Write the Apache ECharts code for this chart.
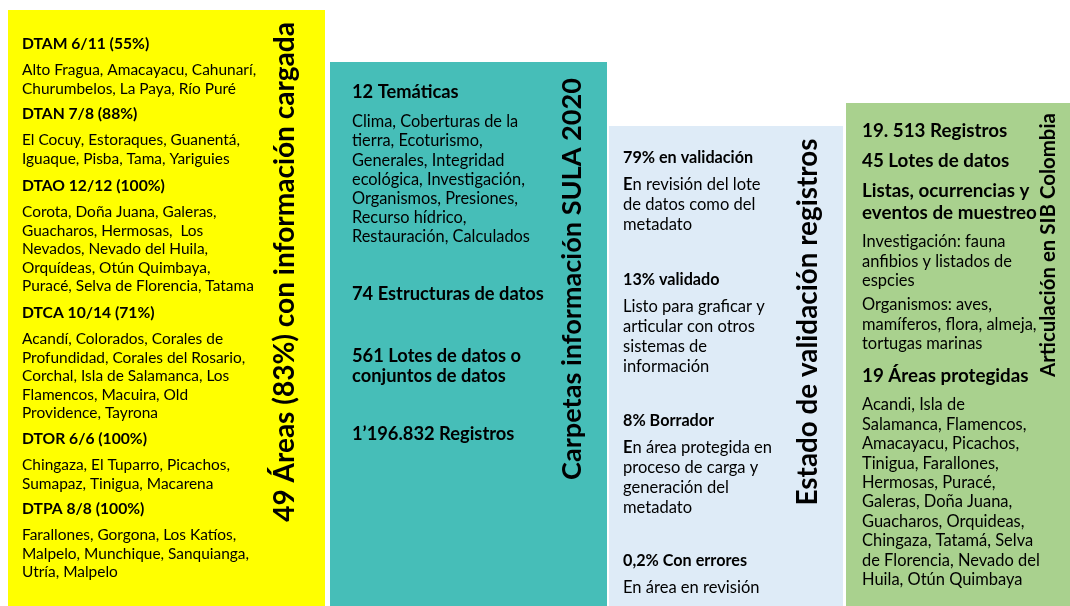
<!DOCTYPE html>
<html>
<head>
<meta charset="utf-8">
<script src="https://cdn.jsdelivr.net/npm/echarts@6/dist/echarts.min.js"></script>
<style>
  html, body { margin: 0; padding: 0; background: #fff; }
  #chart { width: 1070px; height: 606px; }
</style>
</head>
<body>
<div id="chart"></div>
<script>
// ---- data ----
const panelTitles = [
  '49 Áreas (83%) con información cargada',
  'Carpetas información SULA 2020',
  'Estado de validación registros',
  'Articulación en SIB Colombia'
]

const territorialHeads = [
  'DTAM 6/11 (55%)', 'DTAN 7/8 (88%)', 'DTAO 12/12 (100%)',
  'DTCA 10/14 (71%)', 'DTOR 6/6 (100%)', 'DTPA 8/8 (100%)'
]
const territorialAreas = [
  ['Alto Fragua, Amacayacu, Cahunarí,', 'Churumbelos, La Paya, Río Puré'],
  ['El Cocuy, Estoraques, Guanentá,', 'Iguaque, Pisba, Tama, Yariguies'],
  ['Corota, Doña Juana, Galeras,', 'Guacharos, Hermosas,  Los', 'Nevados, Nevado del Huila,',
    'Orquídeas, Otún Quimbaya,', 'Puracé, Selva de Florencia, Tatama'],
  ['Acandí, Colorados, Corales de', 'Profundidad, Corales del Rosario,', 'Corchal, Isla de Salamanca, Los',
    'Flamencos, Macuira, Old', 'Providence, Tayrona'],
  ['Chingaza, El Tuparro, Picachos,', 'Sumapaz, Tinigua, Macarena'],
  ['Farallones, Gorgona, Los Katíos,', 'Malpelo, Munchique, Sanquianga,', 'Utría, Malpelo']
]

const sulaHeads = [
  ['12 Temáticas'],
  ['74 Estructuras de datos'],
  ['561 Lotes de datos o', 'conjuntos de datos'],
  ['1’196.832 Registros']
]
const sulaBodies = [
  ['Clima, Coberturas de la', 'tierra, Ecoturismo,', 'Generales, Integridad', 'ecológica, Investigación,',
    'Organismos, Presiones,', 'Recurso hídrico,', 'Restauración, Calculados'],
  [], [], []
]

const validationHeads = [['79% en validación'], ['13% validado'], ['8% Borrador'], ['0,2% Con errores']]
const validationBodies = [
  ['En revisión del lote', 'de datos como del', 'metadato'],
  ['Listo para graficar y', 'articular con otros', 'sistemas de', 'información'],
  ['En área protegida en', 'proceso de carga y', 'generación del', 'metadato'],
  ['En área en revisión']
]
const validationBoldInitial = [true, false, true, false]

const sibHeads = [
  ['19. 513 Registros'],
  ['45 Lotes de datos'],
  ['Listas, ocurrencias y', 'eventos de muestreo'],
  [],
  ['19 Áreas protegidas']
]
const sibBodies = [
  [], [],
  ['Investigación: fauna', 'anfibios y listados de', 'espcies'],
  ['Organismos: aves,', 'mamíferos, flora, almeja,', 'tortugas marinas'],
  ['Acandi, Isla de', 'Salamanca, Flamencos,', 'Amacayacu, Picachos,', 'Tinigua, Farallones,',
    'Hermosas, Puracé,', 'Galeras, Doña Juana,', 'Guacharos, Orquideas,', 'Chingaza, Tatamá, Selva',
    'de Florencia, Nevado del', 'Huila, Otún Quimbaya']
]

// ---- layout ----
const FONT = 'Lato'
const ctx = document.createElement('canvas').getContext('2d')
// font size that makes `text` as wide as `target` pixels
const fit = (text, weight, target) => {
  ctx.font = `${weight} 100px ${FONT}`
  return 100 * target / ctx.measureText(text).width
}

const panels = [
  {
    left: 8, right: 325, top: 10, color: '#FFFF00',
    heads: territorialHeads.map(h => [h]), bodies: territorialAreas,
    blockY: [44, 114, 186, 313, 439, 509], textX: 22,
    headSize: fit('DTAO 12/12 (100%)', 'bold', 143), bodySize: fit('Puracé, Selva de Florencia, Tatama', 'normal', 232),
    headLh: 20, headToBody: 26.5, bodyLh: 18.4,
    titleX: 285, titleY: 272, titleLen: 500
  },
  {
    left: 330, right: 607, top: 62, color: '#46BEB8',
    heads: sulaHeads, bodies: sulaBodies,
    blockY: [92, 294, 356, 434], textX: 352,
    headSize: fit('74 Estructuras de datos', 'bold', 192), bodySize: fit('Restauración, Calculados', 'normal', 178),
    headLh: 20, headToBody: 30, bodyLh: 19.2,
    titleX: 572, titleY: 279, titleLen: 402
  },
  {
    left: 609, right: 843, top: 126, color: '#DEEBF7',
    heads: validationHeads, bodies: validationBodies, boldInitial: validationBoldInitial,
    blockY: [158, 280, 421, 561], textX: 623,
    headSize: fit('0,2% Con errores', 'bold', 124), bodySize: fit('En área protegida en', 'normal', 149),
    headLh: 20, headToBody: 27, bodyLh: 19.8,
    titleX: 808, titleY: 322, titleLen: 367
  },
  {
    left: 846, right: 1070, top: 103, color: '#A9D18E',
    heads: sibHeads, bodies: sibBodies,
    blockY: [131, 161, 191, 305, 376], textX: 862,
    headSize: fit('eventos de muestreo', 'bold', 175), bodySize: fit('de Florencia, Nevado del', 'normal', 178),
    headLh: 22, headToBody: 29, bodyLh: 19.4,
    titleX: 1048, titleY: 245, titleLen: 264
  }
]

const elements = []
panels.forEach((p, i) => {
  elements.push({
    type: 'rect',
    shape: { x: p.left, y: p.top, width: p.right - p.left, height: 606 - p.top + 2 },
    style: { fill: p.color }
  })
  // vertical title, reading bottom to top
  const title = panelTitles[i]
  elements.push({
    type: 'text',
    x: p.titleX, y: p.titleY, rotation: Math.PI / 2,
    style: {
      text: title, fill: '#000', align: 'center', verticalAlign: 'middle',
      font: `bold ${fit(title, 'bold', p.titleLen).toFixed(2)}px ${FONT}`
    }
  })
  p.blockY.forEach((y0, b) => {
    let y = y0
    const heads = p.heads[b] || []
    heads.forEach((line, k) => {
      elements.push({
        type: 'text', x: p.textX, y,
        style: { text: line, fill: '#000', align: 'left', verticalAlign: 'middle',
          font: `bold ${p.headSize.toFixed(2)}px ${FONT}` }
      })
      if (k < heads.length - 1) y += p.headLh
    })
    if (heads.length) y += p.headToBody
    const body = p.bodies[b] || []
    body.forEach((line, k) => {
      const boldFirst = p.boldInitial && p.boldInitial[b] && k === 0
      elements.push({
        type: 'text', x: p.textX, y,
        style: boldFirst ? {
          text: `{b|${line[0]}}{n|${line.slice(1)}}`, align: 'left', verticalAlign: 'middle',
          rich: {
            b: { fill: '#000', font: `bold ${p.bodySize.toFixed(2)}px ${FONT}` },
            n: { fill: '#000', font: `normal ${p.bodySize.toFixed(2)}px ${FONT}` }
          }
        } : {
          text: line, fill: '#000', align: 'left', verticalAlign: 'middle',
          font: `normal ${p.bodySize.toFixed(2)}px ${FONT}`
        }
      })
      y += p.bodyLh
    })
  })
})

const chart = echarts.init(document.getElementById('chart'), null, { renderer: 'canvas' })
chart.setOption({
  backgroundColor: '#fff',
  animation: false,
  graphic: { elements }
})
</script>
</body>
</html>
